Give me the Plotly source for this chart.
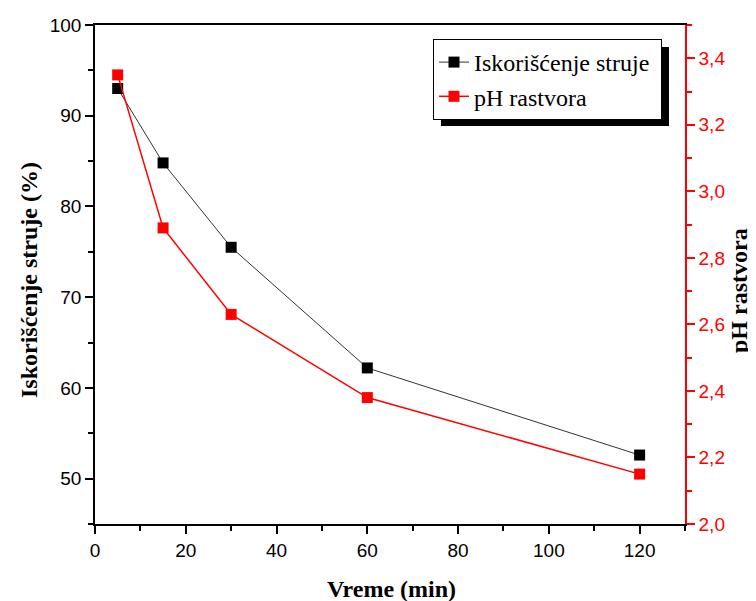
import plotly.graph_objects as go

time_min = [5, 15, 30, 60, 120]
current_eff = [93.0, 84.8, 75.5, 62.2, 52.6]
ph_values = [3.35, 2.89, 2.63, 2.38, 2.15]

name_eff = "Iskorišćenje struje\u00a0"
name_ph = "pH rastvora"

fig = go.Figure()
fig.add_trace(go.Scatter(
    x=time_min, y=current_eff, name=name_eff, mode="lines+markers",
    line=dict(color="#333333", width=1),
    marker=dict(symbol="square", size=11, color="black"),
    yaxis="y"))
fig.add_trace(go.Scatter(
    x=time_min, y=ph_values, name=name_ph, mode="lines+markers",
    line=dict(color="#ff0000", width=1.5),
    marker=dict(symbol="square", size=11, color="#ff0000"),
    yaxis="y2"))

OFF = 8  # default page body margin
# target plot area in page pixels
PX0, PX1, PY0, PY1 = 95, 685, 25, 524
W, H = 756 - OFF, 601 - OFF
ml, mt = PX0 - OFF, PY0 - OFF
pw, ph = PX1 - PX0, PY1 - PY0
mr, mb = W - ml - pw, H - mt - ph

def px_to_paper(x, y):
    return (x - PX0) / pw, 1 - (y - PY0) / ph

lx, ly = px_to_paper(433, 39)
sx0, sy0 = px_to_paper(441, 47)
sx1, sy1 = px_to_paper(669, 126)

tick_font = dict(family="Liberation Sans", size=19)
title_font = dict(family="Liberation Serif", size=24, color="black")

ax_common = dict(showgrid=False, zeroline=False, automargin=False,
                 ticks="outside", ticklen=8, tickwidth=1.5)

fig.update_layout(
    width=W, height=H,
    margin=dict(l=ml, r=mr, t=mt, b=mb, autoexpand=False),
    paper_bgcolor="white", plot_bgcolor="white",
    separators=", ",
    showlegend=True,
    legend=dict(
        x=lx, y=ly, xanchor="left", yanchor="top",
        bgcolor="white", bordercolor="black", borderwidth=1,
        font=dict(family="Liberation Serif", size=24, color="black"),
        itemwidth=30, tracegroupgap=0),
    xaxis=dict(
        range=[0, 130], tickvals=[0, 20, 40, 60, 80, 100, 120],
        showline=True, linecolor="black", linewidth=1.5, mirror=True,
        tickcolor="black",
        minor=dict(dtick=10, tick0=0, ticks="outside", ticklen=5, tickwidth=1.5, tickcolor="black"),
        tickfont=dict(color="black", **tick_font), **ax_common),
    yaxis=dict(
        range=[45, 100], dtick=10, tick0=0,
        showline=True, linecolor="black", linewidth=1.5,
        tickcolor="black",
        minor=dict(dtick=5, tick0=0, ticks="outside", ticklen=5, tickwidth=1.5, tickcolor="black"),
        tickfont=dict(color="black", **tick_font), **ax_common),
    yaxis2=dict(
        overlaying="y", side="right",
        range=[2.0, 3.5], dtick=0.2, tick0=2.0, tickformat=".1f",
        showline=True, linecolor="#ff0000", linewidth=1.5,
        tickcolor="#ff0000",
        minor=dict(dtick=0.1, tick0=2.0, ticks="outside", ticklen=5, tickwidth=1.5, tickcolor="#ff0000"),
        tickfont=dict(color="#ff0000", **tick_font), **ax_common),
    shapes=[dict(type="rect", xref="paper", yref="paper",
                 x0=sx0, x1=sx1, y0=sy1, y1=sy0,
                 fillcolor="black", line=dict(width=0), layer="above")],
    annotations=[
        dict(text="<b>Vreme (min)</b>", xref="paper", yref="paper",
             x=px_to_paper(391, 0)[0], y=px_to_paper(0, 589)[1], showarrow=False,
             xanchor="center", yanchor="middle", font=title_font),
        dict(text="<b>Iskorišćenje struje (%)</b>", xref="paper", yref="paper",
             x=px_to_paper(29, 0)[0], y=px_to_paper(0, 280)[1], showarrow=False, textangle=-90,
             xanchor="center", yanchor="middle", font=title_font),
        dict(text="<b>pH rastvora</b>", xref="paper", yref="paper",
             x=px_to_paper(739, 0)[0], y=px_to_paper(0, 290)[1], showarrow=False, textangle=-90,
             xanchor="center", yanchor="middle", font=title_font),
    ],
)

fig.write_html("out.html")
